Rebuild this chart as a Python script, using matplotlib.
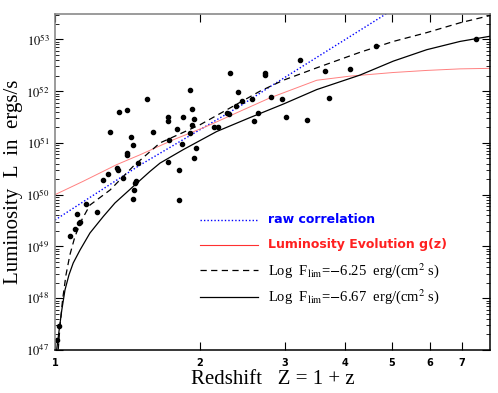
import numpy as np
import matplotlib
import matplotlib.pyplot as plt
from matplotlib.ticker import FixedLocator, NullLocator, LogLocator, NullFormatter

plt.rcParams['mathtext.fontset'] = 'stix'

# GRB sample: redshift Z=1+z and log10 luminosity
z_pts = [1.01, 1.02, 1.077, 1.103, 1.121, 1.127, 1.113, 1.161, 1.225, 1.258,
         1.289, 1.347, 1.351, 1.385, 1.302, 1.358, 1.412, 1.441, 1.454, 1.409,
         1.409, 1.485, 1.472, 1.465, 1.460, 1.454, 1.550, 1.599, 1.720, 1.720,
         1.725, 1.719, 1.794, 1.844, 1.835, 1.809, 1.806, 1.907, 1.927, 1.939,
         1.925, 1.911, 1.965, 1.941, 2.137, 2.175, 2.279, 2.297, 2.376, 2.308,
         2.401, 2.448, 2.569, 2.633, 2.589, 2.732, 2.733, 2.808, 2.957, 3.013,
         3.226, 3.331, 3.630, 3.709, 4.098, 4.632, 7.494]
logL_pts = [47.19, 47.47, 49.21, 49.33, 49.46, 49.48, 49.63, 49.82, 49.67, 50.28,
            50.40, 50.51, 50.48, 50.32, 51.21, 51.59, 51.64, 51.11, 50.96, 50.81,
            50.77, 50.62, 50.26, 50.23, 50.09, 49.91, 51.85, 51.21, 51.50, 51.42,
            51.06, 50.64, 51.27, 51.50, 50.98, 50.48, 49.89, 52.03, 51.65, 51.46,
            51.34, 51.20, 50.91, 50.71, 51.30, 51.31, 51.58, 51.55, 51.72, 52.35,
            51.98, 51.80, 51.85, 51.58, 51.43, 52.35, 52.32, 51.88, 51.84, 51.50,
            52.61, 51.45, 52.38, 51.87, 52.42, 52.87, 53.01]

# raw correlation
raw_z = [1.0, 1.5, 2.42, 2.8, 5.0]
raw_logL = [49.51, 50.57, 51.71, 52.09, 53.56]

# luminosity evolution g(z)
ev_z = [1.0, 1.145, 1.343, 1.501, 1.760, 2.065, 2.421, 2.795, 3.494, 4.098, 5.040, 5.91, 6.93, 8.0]
ev_logL = [50.0, 50.26, 50.58, 50.77, 51.06, 51.32, 51.61, 51.87, 52.21, 52.29, 52.36, 52.40, 52.43, 52.44]

# flux limit log F = -6.25
d_z = [1.010, 1.016, 1.024, 1.037, 1.054, 1.074, 1.100, 1.136, 1.182, 1.301, 1.454, 1.652,
       2.0, 2.345, 2.665, 2.978, 3.494, 4.297, 5.040, 5.910, 6.931, 8.0]
d_logL = [46.6, 47.03, 47.45, 47.97, 48.45, 48.84, 49.19, 49.51, 49.80, 50.09, 50.55, 51.00,
          51.35, 51.71, 52.00, 52.21, 52.45, 52.75, 52.96, 53.13, 53.32, 53.46]

# flux limit log F = -6.67
s_z = [1.004, 1.008, 1.018, 1.033, 1.049, 1.069, 1.091, 1.127, 1.182, 1.260, 1.332, 1.454,
       1.575, 1.652, 1.846, 2.166, 2.541, 2.978, 3.494, 4.297, 5.040, 5.910, 6.931, 8.0]
s_logL = [46.6, 47.0, 47.32, 47.77, 48.16, 48.45, 48.68, 48.93, 49.26, 49.58, 49.84, 50.16,
          50.45, 50.61, 50.87, 51.22, 51.49, 51.75, 52.03, 52.31, 52.58, 52.80, 52.96, 53.06]

fig = plt.figure(figsize=(4.98, 3.93), dpi=100)
ax = fig.add_axes([0.1104, 0.1094, 0.8736, 0.855])

ax.plot(raw_z, 10.0 ** np.array(raw_logL), color='#0000ff', ls=(0, (1, 1.5)), lw=1.0)
ax.plot(ev_z, 10.0 ** np.array(ev_logL), color='#ff8080', lw=0.7)
ax.plot(d_z, 10.0 ** np.array(d_logL), color='black', ls=(0, (5, 3.5)), lw=0.9)
ax.plot(s_z, 10.0 ** np.array(s_logL), color='black', lw=0.9)
ax.plot(z_pts, 10.0 ** np.array(logL_pts), 'o', color='black', ms=3.0, mec='black')

ax.set_xscale('log')
ax.set_yscale('log')
ax.set_xlim(1, 8.0)
ax.set_ylim(1e47, 10 ** 53.49)

xt = [1, 2, 3, 4, 5, 6, 7]
ax.xaxis.set_major_locator(FixedLocator(xt))
ax.xaxis.set_minor_locator(NullLocator())
ax.set_xticklabels([str(v) for v in xt], fontsize=7, fontweight='bold', family='DejaVu Sans')

yt = [1e47, 1e48, 1e49, 1e50, 1e51, 1e52, 1e53]
ax.yaxis.set_major_locator(FixedLocator(yt))
ax.set_yticklabels([r'$10^{%d}$' % e for e in range(47, 54)], fontsize=9)
ax.yaxis.set_minor_locator(LogLocator(base=10, subs=np.arange(2, 10), numticks=20))
ax.yaxis.set_minor_formatter(NullFormatter())

ax.tick_params(which='both', direction='in', top=True, right=True)
ax.tick_params(which='major', length=6, width=0.8, pad=4)
ax.tick_params(which='minor', length=3, width=0.6)
ax.tick_params(axis='x', pad=6)
for side in ['top', 'left']:
    ax.spines[side].set_color('#808080')
for side in ax.spines:
    ax.spines[side].set_linewidth(1.1)

ax.set_xlabel('Redshift   Z = 1 + z', family='Liberation Serif', fontsize=15, labelpad=1)
ax.set_ylabel('Luminosity  L  in  ergs/s', family='Liberation Serif', fontsize=15, labelpad=2)

# legend drawn by hand
tr = ax.transAxes
rows = [0.388, 0.313, 0.238, 0.159]
lx0, lx1, tx = 0.333, 0.466, 0.489
ax.plot([lx0, lx1], [rows[0]] * 2, transform=tr, color='#0000ff', ls=(0, (1, 1.5)), lw=1.0)
ax.plot([lx0, lx1], [rows[1]] * 2, transform=tr, color='#ff3030', lw=0.8)
ax.plot([lx0, lx1], [rows[2]] * 2, transform=tr, color='black', ls=(0, (5, 3.5)), lw=0.9)
ax.plot([lx0, lx1], [rows[3]] * 2, transform=tr, color='black', lw=0.9)
ax.text(tx, rows[0], 'raw correlation', transform=tr, color='#0000ff', fontsize=9,
        fontweight='bold', va='center')
ax.text(tx, rows[1], 'Luminosity Evolution g(z)', transform=tr, color='#ff2020', fontsize=9,
        fontweight='bold', va='center')
ax.text(tx, rows[2], r'Log  F$_{\rm lim}$=$-$6.25  erg/(cm$^{2}$ s)', transform=tr, color='black',
        fontsize=10.5, family='Liberation Serif', va='center')
ax.text(tx, rows[3], r'Log  F$_{\rm lim}$=$-$6.67  erg/(cm$^{2}$ s)', transform=tr, color='black',
        fontsize=10.5, family='Liberation Serif', va='center')

plt.savefig('out.png', dpi=100)
